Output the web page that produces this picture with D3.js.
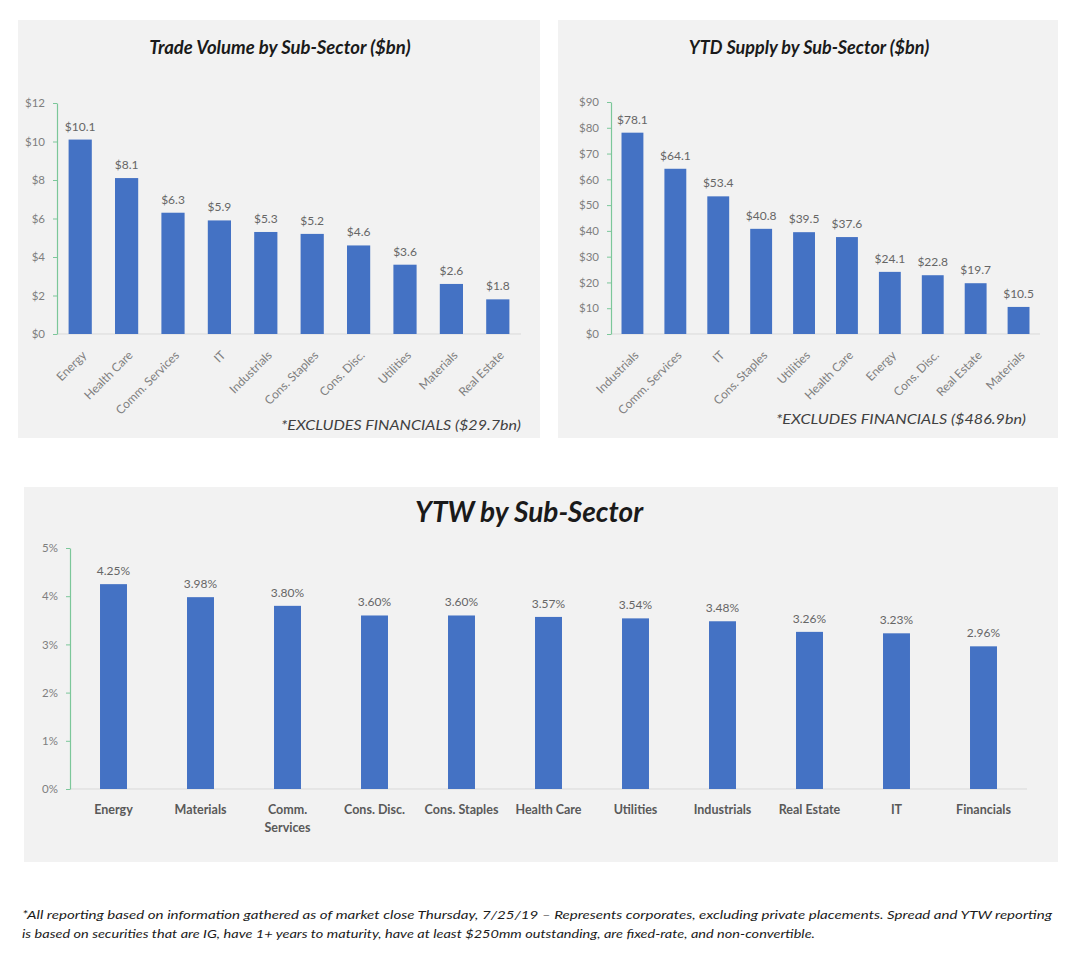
<!DOCTYPE html>
<html>
<head>
<meta charset="utf-8">
<script src="https://cdn.jsdelivr.net/npm/d3@7"></script>
<style>
  html, body { margin: 0; padding: 0; background: #fff; }
  svg { display: block; }
  text { font-family: Lato, "Liberation Sans", sans-serif; }
</style>
</head>
<body>
<svg id="chart" width="1085" height="972"></svg>
<script>
// ── Data ────────────────────────────────────────────────────────────────────
const tradeCats = ['Energy', 'Health Care', 'Comm. Services', 'IT', 'Industrials',
  'Cons. Staples', 'Cons. Disc.', 'Utilities', 'Materials', 'Real Estate'];
const tradeVals = [10.1, 8.1, 6.3, 5.9, 5.3, 5.2, 4.6, 3.6, 2.6, 1.8];
const tradeTicks = [0, 2, 4, 6, 8, 10, 12];

const supplyCats = ['Industrials', 'Comm. Services', 'IT', 'Cons. Staples', 'Utilities',
  'Health Care', 'Energy', 'Cons. Disc.', 'Real Estate', 'Materials'];
const supplyVals = [78.1, 64.1, 53.4, 40.8, 39.5, 37.6, 24.1, 22.8, 19.7, 10.5];
const supplyTicks = [0, 10, 20, 30, 40, 50, 60, 70, 80, 90];

const ytwCats = ['Energy', 'Materials', 'Comm. Services', 'Cons. Disc.', 'Cons. Staples',
  'Health Care', 'Utilities', 'Industrials', 'Real Estate', 'IT', 'Financials'];
const ytwVals = [4.25, 3.98, 3.80, 3.60, 3.60, 3.57, 3.54, 3.48, 3.26, 3.23, 2.96];
const ytwTicks = [0, 1, 2, 3, 4, 5];

const footLines = [
  '*All reporting based on information gathered as of market close Thursday, 7/25/19 \u2013 Represents corporates, excluding private placements. Spread and YTW reporting',
  'is based on securities that are IG, have 1+ years to maturity, have at least $250mm outstanding, are fixed-rate, and non-convertible.'
];

// ── Styles ──────────────────────────────────────────────────────────────────
const BAR = '#4472c4';
const PANEL_BG = '#f2f2f2';
const AXIS_GREEN = '#7cc79a';
const GRAY = '#7f7f7f';

const svg = d3.select('#chart');

// Draw one boxed bar chart panel.
function drawPanel(cfg) {
  svg.append('rect')
    .attr('x', cfg.box[0]).attr('y', cfg.box[1])
    .attr('width', cfg.box[2]).attr('height', cfg.box[3])
    .attr('fill', PANEL_BG);

  svg.append('text')
    .attr('x', cfg.titleX).attr('y', cfg.titleY)
    .attr('text-anchor', 'middle')
    .attr('font-size', cfg.titleSize).attr('font-weight', 'bold').attr('font-style', 'italic')
    .attr('fill', '#1a1a1a')
    .text(cfg.title);

  const x = d3.scaleBand().domain(cfg.cats)
    .range([cfg.left, cfg.right])
    .paddingInner(cfg.pad).paddingOuter(cfg.pad / 2);
  const y = d3.scaleLinear().domain([0, d3.max(cfg.ticks)])
    .range([cfg.bottom, cfg.top]);

  // x baseline
  svg.append('line')
    .attr('x1', cfg.left).attr('x2', cfg.right)
    .attr('y1', cfg.bottom).attr('y2', cfg.bottom)
    .attr('stroke', '#d9d9d9').attr('stroke-width', 1);

  // y axis (green line with small ticks)
  const yAxis = svg.append('g')
    .attr('transform', `translate(${cfg.left},0)`)
    .call(d3.axisLeft(y).tickValues(cfg.ticks).tickSize(4).tickSizeOuter(0).tickPadding(8).tickFormat(cfg.tickFmt));
  yAxis.select('.domain').attr('stroke', AXIS_GREEN).attr('stroke-width', 1.2);
  yAxis.selectAll('.tick line').attr('stroke', AXIS_GREEN);
  yAxis.selectAll('.tick text')
    .attr('fill', GRAY).attr('font-size', 11.5)
    .attr('font-family', 'Lato, "Liberation Sans", sans-serif');

  // bars
  svg.selectAll(null).data(cfg.vals).enter().append('rect')
    .attr('x', (d, i) => x(cfg.cats[i]))
    .attr('y', d => y(d))
    .attr('width', x.bandwidth())
    .attr('height', d => cfg.bottom - y(d))
    .attr('fill', BAR);

  // value labels
  svg.selectAll(null).data(cfg.vals).enter().append('text')
    .attr('x', (d, i) => x(cfg.cats[i]) + x.bandwidth() / 2)
    .attr('y', d => y(d) - 9)
    .attr('text-anchor', 'middle')
    .attr('font-size', 12).attr('fill', '#666')
    .text(cfg.valFmt);

  // category labels
  if (cfg.rotate) {
    svg.selectAll(null).data(cfg.cats).enter().append('text')
      .attr('transform', d => `translate(${x(d) + x.bandwidth() / 2 + 4},${cfg.bottom + 19}) rotate(-45)`)
      .attr('text-anchor', 'end')
      .attr('dy', '0.35em')
      .attr('font-size', 12).attr('fill', GRAY)
      .text(d => d);
  } else {
    const lab = svg.selectAll(null).data(cfg.cats).enter().append('text')
      .attr('x', d => x(d) + x.bandwidth() / 2)
      .attr('y', cfg.bottom + 25)
      .attr('text-anchor', 'middle')
      .attr('font-size', 12.5).attr('font-weight', 'bold').attr('fill', '#595959');
    lab.each(function(d) {
      const parts = cfg.wrap[d] || [d];
      const t = d3.select(this);
      parts.forEach((p, k) => {
        t.append('tspan').attr('x', x(d) + x.bandwidth() / 2).attr('dy', k === 0 ? 0 : 18).text(p);
      });
    });
  }

  if (cfg.note) {
    svg.append('text')
      .attr('x', cfg.noteX).attr('y', cfg.noteY)
      .attr('text-anchor', 'end')
      .attr('font-size', 14).attr('font-style', 'italic').attr('fill', '#404040')
      .attr('textLength', cfg.noteW).attr('lengthAdjust', 'spacingAndGlyphs')
      .text(cfg.note);
  }
}

drawPanel({
  box: [18, 20, 522, 418],
  title: 'Trade Volume by Sub-Sector ($bn)', titleX: 280, titleY: 54, titleSize: 18.5,
  cats: tradeCats, vals: tradeVals, ticks: tradeTicks,
  left: 57, right: 521, top: 103, bottom: 334, pad: 0.5,
  tickFmt: d => '$' + d, valFmt: d => '$' + d.toFixed(1),
  rotate: true,
  note: '*EXCLUDES FINANCIALS ($29.7bn)', noteX: 521, noteY: 430, noteW: 240
});

drawPanel({
  box: [558, 20, 500, 418],
  title: 'YTD Supply by Sub-Sector ($bn)', titleX: 809, titleY: 54, titleSize: 18,
  cats: supplyCats, vals: supplyVals, ticks: supplyTicks,
  left: 611, right: 1040, top: 102, bottom: 334, pad: 0.49,
  tickFmt: d => '$' + d, valFmt: d => '$' + d.toFixed(1),
  rotate: true,
  note: '*EXCLUDES FINANCIALS ($486.9bn)', noteX: 1026, noteY: 424, noteW: 250
});

drawPanel({
  box: [24, 487, 1034, 375],
  title: 'YTW by Sub-Sector', titleX: 529, titleY: 522, titleSize: 28,
  cats: ytwCats, vals: ytwVals, ticks: ytwTicks,
  left: 70, right: 1027, top: 548, bottom: 789, pad: 0.69,
  tickFmt: d => d + '%', valFmt: d => d.toFixed(2) + '%',
  rotate: false,
  wrap: { 'Comm. Services': ['Comm.', 'Services'] }
});

// footnote
svg.selectAll(null).data(footLines).enter().append('text')
  .attr('x', 22)
  .attr('y', (d, i) => 919 + i * 19)
  .attr('font-size', 12).attr('font-style', 'italic').attr('fill', '#1a1a1a')
  .attr('textLength', (d, i) => i === 0 ? 1030 : 793)
  .attr('lengthAdjust', 'spacingAndGlyphs')
  .text(d => d);
</script>
</body>
</html>
